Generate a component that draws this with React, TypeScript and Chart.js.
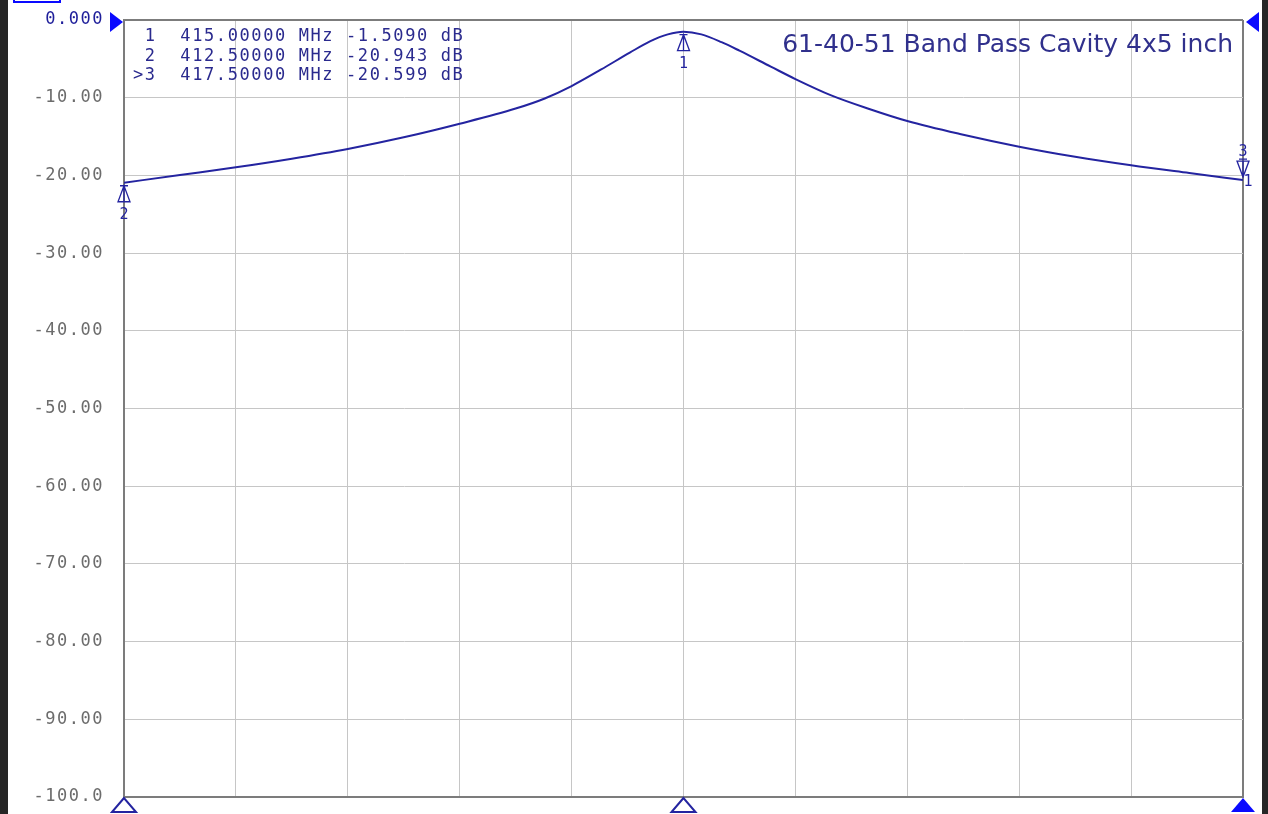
import React, { useEffect, useRef } from "react";
import { Chart, registerables } from "chart.js";

Chart.register(...registerables);

// ---- data ----
const freqMHz = [
  412.5, 412.75, 413.0, 413.25, 413.5, 413.75, 414.0, 414.25, 414.38, 414.5,
  414.63, 414.76, 414.85, 414.93, 415.0, 415.08, 415.17, 415.25, 415.39, 415.5,
  415.66, 415.83, 416.0, 416.24, 416.5, 416.75, 417.0, 417.26, 417.5,
];
const s21dB = [
  -20.943, -19.95, -18.96, -17.85, -16.6, -15.1, -13.35, -11.4, -10.1, -8.5,
  -6.4, -4.2, -2.75, -1.85, -1.509, -1.85, -2.85, -3.95, -6.0, -7.6,
  -9.7, -11.45, -13.0, -14.7, -16.3, -17.6, -18.7, -19.7, -20.599,
];
const yTicks = [0, -10, -20, -30, -40, -50, -60, -70, -80, -90, -100];
const markerIds = ["1", "2", "3"];
const markerPrefix = [" 1", " 2", ">3"];
const markerFreq = [415.0, 412.5, 417.5];
const markerDb = [-1.509, -20.943, -20.599];
const traceTitle = "61-40-51 Band Pass Cavity 4x5 inch";
const stimMarkerFreq = [412.5, 415.0, 417.5];

const NAVY = "#2424a0";
const TEXT_NAVY = "#2a2a8e";
const BLUE = "#0a0aff";

function fmtTick(v: number): string {
  if (v === 0) return "0.000";
  if (v <= -100) return v.toFixed(1);
  return v.toFixed(2);
}

const overlayPlugin = {
  id: "vnaOverlay",
  beforeDraw(chart: any) {
    const ctx = chart.ctx;
    ctx.save();
    ctx.fillStyle = "#ffffff";
    ctx.fillRect(0, 0, chart.width, chart.height);
    ctx.restore();
    (ctx as any).letterSpacing = "1.5px";
  },
  afterDraw(chart: any) {
    const ctx = chart.ctx;
    const xs = chart.scales.x;
    const ys = chart.scales.y;
    const area = chart.chartArea;
    ctx.save();
    (ctx as any).letterSpacing = "0px";

    // dark frame strips
    ctx.fillStyle = "#262626";
    ctx.fillRect(0, 0, 8, chart.height);
    ctx.fillRect(chart.width - 6, 0, 6, chart.height);

    // cut-off header hint
    ctx.strokeStyle = BLUE;
    ctx.lineWidth = 2;
    ctx.strokeRect(14, -10, 46, 12);

    // marker table
    ctx.fillStyle = TEXT_NAVY;
    ctx.font = "17px 'DejaVu Sans Mono'";
    (ctx as any).letterSpacing = "1.6px";
    ctx.textAlign = "left";
    ctx.textBaseline = "alphabetic";
    for (let i = 0; i < markerIds.length; i++) {
      const row =
        markerPrefix[i] +
        "  " +
        markerFreq[i].toFixed(5) +
        " MHz " +
        markerDb[i].toPrecision(5) +
        " dB";
      ctx.fillText(row, area.left + 9, area.top + 21 + i * 19.5);
    }

    // title
    (ctx as any).letterSpacing = "0px";
    ctx.font = "25px 'DejaVu Sans'";
    ctx.textAlign = "right";
    ctx.fillStyle = "#30308c";
    ctx.fillText(traceTitle, area.right - 10, area.top + 32);

    // trace markers
    ctx.strokeStyle = NAVY;
    ctx.fillStyle = NAVY;
    ctx.lineWidth = 1.3;
    ctx.font = "15px 'DejaVu Sans Mono'";
    ctx.textAlign = "center";
    for (let i = 0; i < markerIds.length; i++) {
      const px = xs.getPixelForValue(markerFreq[i]);
      const py = ys.getPixelForValue(markerDb[i]);
      if (i < 2) {
        const apex = py + 3;
        const base = py + 19;
        ctx.beginPath();
        ctx.moveTo(px, apex);
        ctx.lineTo(px - 6, base);
        ctx.lineTo(px + 6, base);
        ctx.closePath();
        ctx.moveTo(px - 4, apex);
        ctx.lineTo(px + 4, apex);
        ctx.moveTo(px, apex);
        ctx.lineTo(px, base);
        ctx.stroke();
        ctx.fillText(markerIds[i], px, py + 36);
      } else {
        const apex = py - 3;
        const top = py - 19;
        ctx.beginPath();
        ctx.moveTo(px, apex);
        ctx.lineTo(px - 6, top);
        ctx.lineTo(px + 6, top);
        ctx.closePath();
        ctx.moveTo(px - 4, top - 2);
        ctx.lineTo(px + 4, top - 2);
        ctx.moveTo(px, apex);
        ctx.lineTo(px, top);
        ctx.stroke();
        ctx.fillText(markerIds[i], px, top - 5);
        ctx.fillText("1", px + 5, py + 6);
      }
    }

    // reference level arrows
    const refY = ys.getPixelForValue(0);
    ctx.fillStyle = BLUE;
    ctx.beginPath();
    ctx.moveTo(area.left - 1, refY + 2);
    ctx.lineTo(area.left - 14, refY - 8);
    ctx.lineTo(area.left - 14, refY + 12);
    ctx.closePath();
    ctx.fill();
    ctx.beginPath();
    ctx.moveTo(area.right + 3, refY + 2);
    ctx.lineTo(area.right + 16, refY - 8);
    ctx.lineTo(area.right + 16, refY + 12);
    ctx.closePath();
    ctx.fill();

    // stimulus marker arrows along bottom
    const by = area.bottom + 1;
    for (let i = 0; i < stimMarkerFreq.length; i++) {
      const px = xs.getPixelForValue(stimMarkerFreq[i]);
      ctx.beginPath();
      ctx.moveTo(px, by);
      ctx.lineTo(px - 12, by + 14);
      ctx.lineTo(px + 12, by + 14);
      ctx.closePath();
      if (i === stimMarkerFreq.length - 1) {
        ctx.fillStyle = BLUE;
        ctx.fill();
      } else {
        ctx.strokeStyle = NAVY;
        ctx.lineWidth = 2;
        ctx.stroke();
      }
    }
    ctx.restore();
  },
};

export default function App() {
  const ref = useRef<HTMLCanvasElement | null>(null);
  useEffect(() => {
    if (!ref.current) return;
    const chart = new Chart(ref.current, {
      type: "line",
      data: {
        datasets: [
          {
            data: freqMHz.map((f, i) => ({ x: f, y: s21dB[i] })),
            borderColor: NAVY,
            borderWidth: 2,
            pointRadius: 0,
            cubicInterpolationMode: "monotone",
            fill: false,
          },
        ],
      },
      options: {
        animation: false,
        responsive: false,
        devicePixelRatio: 1,
        layout: { padding: { top: 20, right: 25, bottom: 17, left: 0 } },
        plugins: { legend: { display: false }, tooltip: { enabled: false }, title: { display: false } },
        scales: {
          x: {
            type: "linear",
            min: 412.5,
            max: 417.5,
            afterFit: (s: any) => {
              s.height = 0;
              s.paddingLeft = 0;
              s.paddingRight = 0;
            },
            ticks: { display: false, stepSize: 0.5 },
            grid: {
              drawTicks: false,
              color: (c: any) =>
                c.tick && (c.tick.value <= 412.5 || c.tick.value >= 417.5) ? "#7c7c7c" : "#c6c6c6",
              lineWidth: (c: any) =>
                c.tick && (c.tick.value <= 412.5 || c.tick.value >= 417.5) ? 2 : 1,
            },
            border: { display: true, color: "#7c7c7c", width: 2 },
          },
          y: {
            type: "linear",
            min: -100,
            max: 0,
            afterFit: (s: any) => {
              s.width = 124;
              s.paddingTop = 0;
              s.paddingBottom = 0;
            },
            afterBuildTicks: (s: any) => {
              s.ticks = yTicks.map((v) => ({ value: v }));
            },
            ticks: {
              callback: (v: any) => fmtTick(Number(v)),
              font: { family: "'DejaVu Sans Mono'", size: 17 },
              color: (c: any) => (c.tick && c.tick.value === 0 ? "#1e1e9a" : "#6c6c6c"),
              padding: 20,
            },
            grid: {
              drawTicks: false,
              color: (c: any) =>
                c.tick && (c.tick.value === 0 || c.tick.value === -100) ? "#7c7c7c" : "#c6c6c6",
              lineWidth: (c: any) =>
                c.tick && (c.tick.value === 0 || c.tick.value === -100) ? 2 : 1,
            },
            border: { display: true, color: "#7c7c7c", width: 2 },
          },
        },
      },
      plugins: [overlayPlugin],
    } as any);
    return () => chart.destroy();
  }, []);
  return (
    <div style={{ position: "fixed", left: 0, top: 0, width: 1268, height: 814, background: "#fff" }}>
      <canvas ref={ref} width={1268} height={814} style={{ display: "block" }} />
    </div>
  );
}
